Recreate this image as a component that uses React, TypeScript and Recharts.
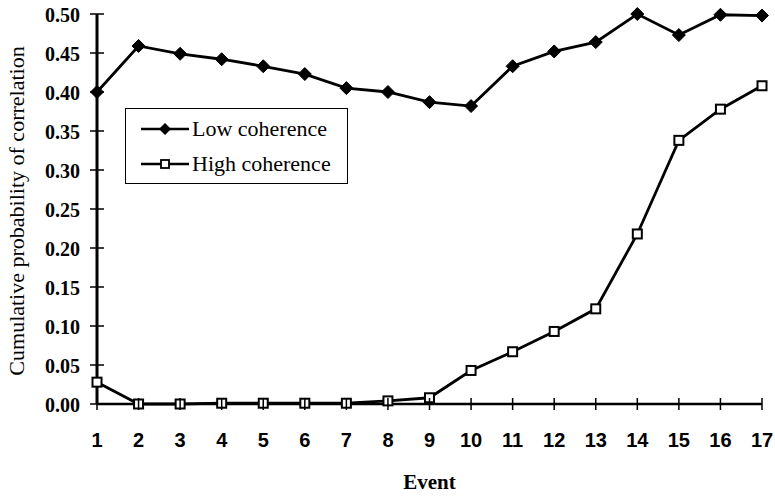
import { LineChart, Line, XAxis, YAxis, Legend, Label } from 'recharts';

const events = [1, 2, 3, 4, 5, 6, 7, 8, 9, 10, 11, 12, 13, 14, 15, 16, 17];
const lowCoherence = [0.4, 0.459, 0.449, 0.442, 0.433, 0.423, 0.405, 0.4, 0.387, 0.382, 0.433, 0.452, 0.464, 0.5, 0.473, 0.499, 0.498];
const highCoherence = [0.028, 0.0, 0.0, 0.001, 0.001, 0.001, 0.001, 0.004, 0.008, 0.043, 0.067, 0.093, 0.122, 0.218, 0.338, 0.378, 0.408];
const yTicks = [0, 0.05, 0.1, 0.15, 0.2, 0.25, 0.3, 0.35, 0.4, 0.45, 0.5];
const legendOrder = ['low', 'high'];

const data = events.map((e, i) => ({ event: e, low: lowCoherence[i], high: highCoherence[i] }));

const serif = '"Liberation Serif", "Times New Roman", serif';
const sans = '"Liberation Sans", Arial, sans-serif';

const diamond = (props: any) => {
  const { cx, cy, index } = props;
  if (cx == null || cy == null) return <g key={`ld-${index}`} />;
  const r = 6.5;
  return (
    <path key={`ld-${index}`} d={`M${cx},${cy - r}L${cx + r},${cy}L${cx},${cy + r}L${cx - r},${cy}Z`} fill="#000" stroke="#000" />
  );
};

const square = (props: any) => {
  const { cx, cy, index } = props;
  if (cx == null || cy == null) return <g key={`hs-${index}`} />;
  const s = 9;
  return <rect key={`hs-${index}`} x={cx - s / 2} y={cy - s / 2} width={s} height={s} fill="#fff" stroke="#000" strokeWidth={2} />;
};

const YTick = (props: any) => {
  const { x, y, payload } = props;
  return (
    <g>
      <line x1={x + 10} x2={x + 24} y1={y} y2={y} stroke="#000" strokeWidth={1.5} />
      <text x={x} y={y} dy="0.4em" textAnchor="end" fontFamily={serif} fontWeight="bold" fontSize={20} fill="#000">
        {payload.value.toFixed(2)}
      </text>
    </g>
  );
};

const XTick = (props: any) => {
  const { x, y, payload } = props;
  const axisY = y - 29;
  return (
    <g>
      <line x1={x} x2={x} y1={axisY - 6} y2={axisY + 6} stroke="#000" strokeWidth={1.5} />
      <text x={x} y={y} dy="0.71em" textAnchor="middle" fontFamily={sans} fontWeight="bold" fontSize={20} fill="#000">
        {payload.value}
      </text>
    </g>
  );
};

const renderLegend = (props: any) => {
  const items = (props.payload || [])
    .slice()
    .sort((a: any, b: any) => legendOrder.indexOf(a.dataKey) - legendOrder.indexOf(b.dataKey));
  return (
    <div style={{ width: 223, height: 76, border: '1.5px solid #000', boxSizing: 'border-box', background: '#fff', paddingTop: 2 }}>
      {items.map((entry: any) => (
        <div key={entry.value} style={{ display: 'flex', alignItems: 'center', height: 35.5, fontFamily: serif, fontSize: 22, color: '#000' }}>
          <svg width={66} height={20} style={{ marginLeft: 13, flex: 'none' }}>
            <line x1={2} x2={50} y1={10} y2={10} stroke="#000" strokeWidth={2.5} />
            {entry.dataKey === 'low' ? (
              <path d="M26,4L32,10L26,16L20,10Z" fill="#000" />
            ) : (
              <rect x={22} y={6} width={8} height={8} fill="#fff" stroke="#000" strokeWidth={1.8} />
            )}
          </svg>
          <span style={{ marginLeft: -13 }}>{entry.value}</span>
        </div>
      ))}
    </div>
  );
};

export default function App() {
  return (
    <div style={{ position: 'absolute', left: 0, top: 0, background: '#fff' }}>
      <LineChart width={775} height={496} data={data} margin={{ top: 14, right: 13, bottom: 32, left: 0 }}>
        <XAxis
          dataKey="event"
          type="number"
          domain={[1, 17]}
          ticks={events}
          interval={0}
          height={60}
          tickSize={6}
          tickMargin={23}
          tickLine={false}
          tick={<XTick />}
          axisLine={{ stroke: '#000', strokeWidth: 2.5 }}
        >
          <Label
            content={() => (
              <text x={429.5} y={489} textAnchor="middle" fontFamily={serif} fontWeight="bold" fontSize={21} fill="#000">
                Event
              </text>
            )}
          />
        </XAxis>
        <XAxis xAxisId="top" orientation="top" type="number" domain={[1, 17]} height={0} tick={false} tickLine={false} axisLine={{ stroke: '#000', strokeWidth: 2 }} />
        <YAxis
          type="number"
          domain={[0, 0.5]}
          ticks={yTicks}
          interval={0}
          width={97}
          tickSize={7}
          tickMargin={10}
          tickLine={false}
          tick={<YTick />}
          axisLine={{ stroke: '#000', strokeWidth: 3 }}
        >
          <Label
            content={() => (
              <text x={16} y={211} transform="rotate(-90 16 211)" textAnchor="middle" dominantBaseline="central" fontFamily={serif} fontSize={22} fill="#000">
                Cumulative probability of correlation
              </text>
            )}
          />
        </YAxis>
        <YAxis yAxisId="right" orientation="right" type="number" domain={[0, 0.5]} width={0} tick={false} tickLine={false} axisLine={{ stroke: '#000', strokeWidth: 2 }} />
        <Legend
          layout="vertical"
          align="center"
          verticalAlign="middle"
          content={renderLegend}
          wrapperStyle={{ left: 125, top: 108, width: 223, height: 76 }}
        />
        <Line dataKey="low" name="Low coherence" stroke="#000" strokeWidth={2.8} dot={diamond} activeDot={false} isAnimationActive={false} />
        <Line dataKey="high" name="High coherence" stroke="#000" strokeWidth={2.8} dot={square} activeDot={false} isAnimationActive={false} />
      </LineChart>
    </div>
  );
}
